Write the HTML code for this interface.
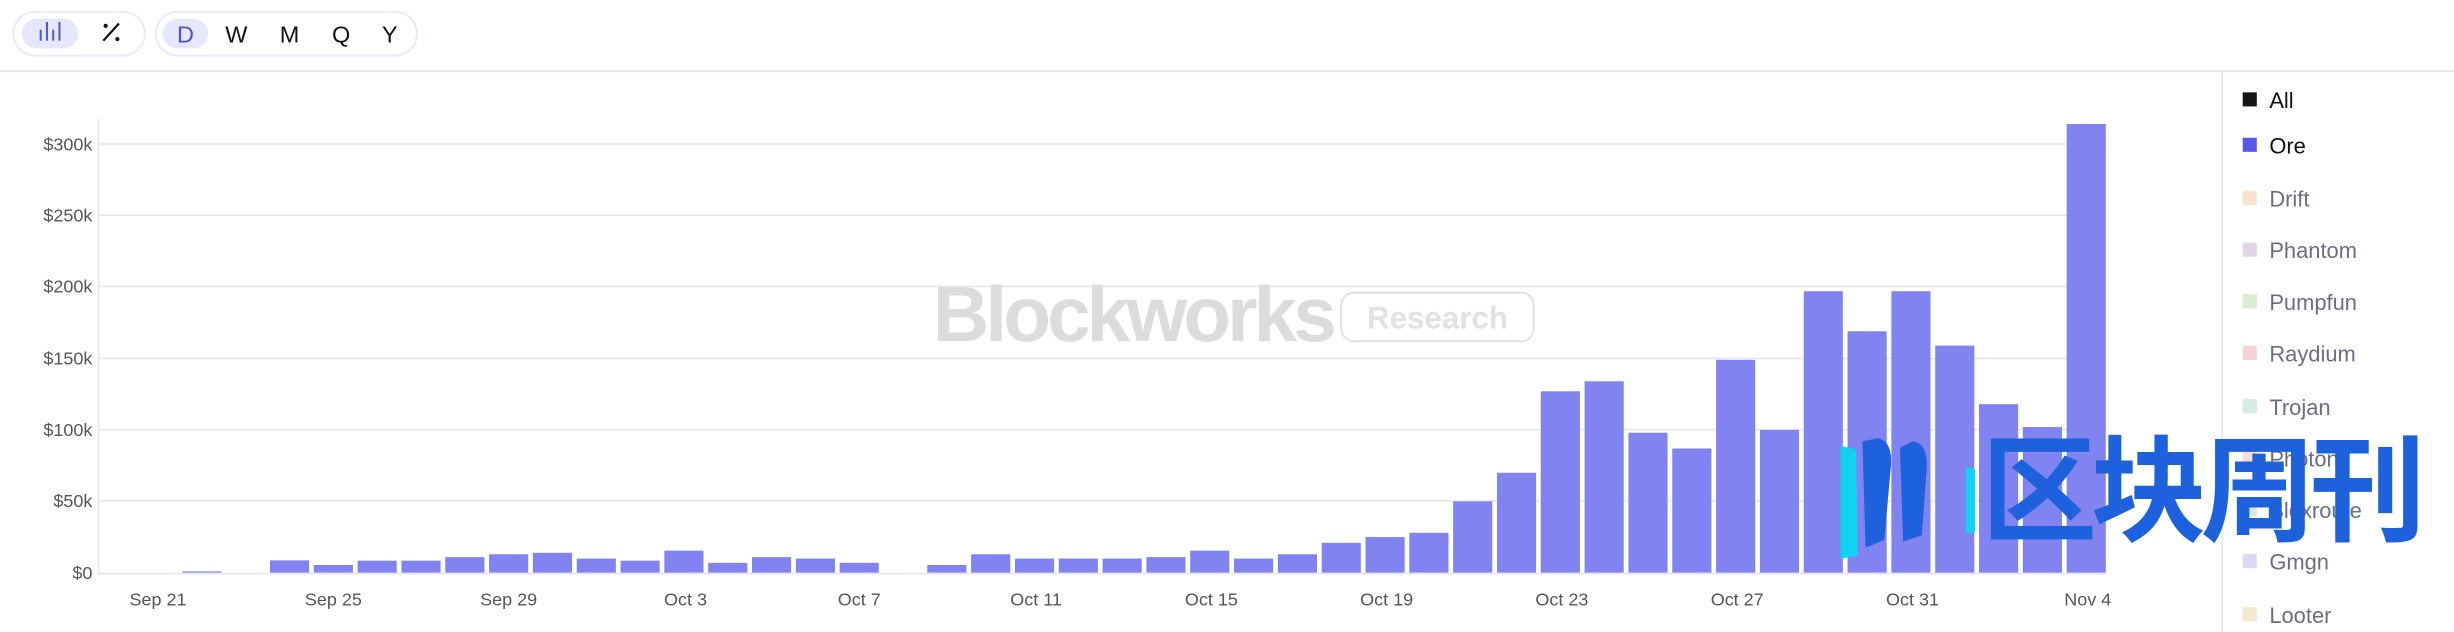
<!DOCTYPE html>
<html><head><meta charset="utf-8"><style>
html,body{margin:0;padding:0;background:#fff;width:2454px;height:632px;overflow:hidden}
svg{display:block}
</style></head><body>
<svg width="2454" height="632" viewBox="0 0 1568 403.8" xmlns="http://www.w3.org/2000/svg" font-family="Liberation Sans, sans-serif">
<rect width="1568" height="404" fill="#fff"/>
<rect x="8.5" y="7.5" width="84" height="28" rx="14" fill="#fff" stroke="#e8e9fb" stroke-width="1.2"/>
<rect x="14" y="12" width="36" height="19" rx="9.5" fill="#e6e7fb"/>
<g stroke="#5457d8" stroke-width="1.3"><line x1="26" y1="26" x2="26" y2="19"/><line x1="30" y1="26" x2="30" y2="14"/><line x1="34" y1="26" x2="34" y2="19"/><line x1="38" y1="26" x2="38" y2="14"/></g>
<g stroke="#111" stroke-width="1.4"><line x1="66" y1="26" x2="76" y2="15"/></g><circle cx="67.5" cy="16.5" r="1.3" fill="#111"/><circle cx="75" cy="25" r="1.3" fill="#111"/>
<rect x="99.5" y="7.5" width="167" height="28" rx="14" fill="#fff" stroke="#e8e9fb" stroke-width="1.2"/>
<rect x="104" y="12" width="29" height="19" rx="9.5" fill="#e6e7fb"/>
<g font-size="15" text-anchor="middle"><text x="118.5" y="27" fill="#4e51d6">D</text><text x="151" y="27" fill="#111">W</text><text x="185" y="27" fill="#111">M</text><text x="218" y="27" fill="#111">Q</text><text x="249" y="27" fill="#111">Y</text></g>
<line x1="0" y1="45.5" x2="1568" y2="45.5" stroke="#e4e4e9" stroke-width="1.2"/>
<line x1="1420" y1="46" x2="1420" y2="404" stroke="#e6e6ea" stroke-width="1"/>
<g stroke="#e6e6ec" stroke-width="1">
<line x1="63" y1="92" x2="1346" y2="92"/><line x1="63" y1="137.5" x2="1346" y2="137.5"/><line x1="63" y1="183" x2="1346" y2="183"/><line x1="63" y1="229" x2="1346" y2="229"/><line x1="63" y1="274.5" x2="1346" y2="274.5"/><line x1="63" y1="320" x2="1346" y2="320"/>
</g>
<line x1="63" y1="76" x2="63" y2="367" stroke="#e6e6ec"/>
<g font-size="11.5" fill="#555" text-anchor="end">
<text x="59" y="96">$300k</text><text x="59" y="141.5">$250k</text><text x="59" y="187">$200k</text><text x="59" y="233">$150k</text><text x="59" y="278.5">$100k</text><text x="59" y="324">$50k</text><text x="59" y="370">$0</text>
</g>
<text x="596" y="218" font-size="50" font-weight="bold" fill="#dcdcdc" letter-spacing="-2.5">Blockworks</text>
<rect x="857" y="187" width="123" height="31" rx="8" fill="none" stroke="#e2e2e2" stroke-width="1.3"/>
<text x="918.5" y="210" font-size="20" font-weight="bold" fill="#e2e2e2" text-anchor="middle">Research</text>
<g fill="#8083f0">
<rect x="116.5" y="365.09" width="25" height="0.91"/>
<rect x="172.5" y="358.05" width="25" height="7.95"/>
<rect x="200.5" y="360.98" width="25" height="5.02"/>
<rect x="228.5" y="358.24" width="25" height="7.76"/>
<rect x="256.5" y="358.24" width="25" height="7.76"/>
<rect x="284.5" y="355.95" width="25" height="10.05"/>
<rect x="312.5" y="354.13" width="25" height="11.87"/>
<rect x="340.5" y="353.21" width="25" height="12.79"/>
<rect x="368.5" y="356.87" width="25" height="9.13"/>
<rect x="396.5" y="358.24" width="25" height="7.76"/>
<rect x="424.5" y="351.84" width="25" height="14.16"/>
<rect x="452.5" y="359.61" width="25" height="6.39"/>
<rect x="480.5" y="355.95" width="25" height="10.05"/>
<rect x="508.5" y="356.87" width="25" height="9.13"/>
<rect x="536.5" y="359.61" width="25" height="6.39"/>
<rect x="592.5" y="360.98" width="25" height="5.02"/>
<rect x="620.5" y="354.13" width="25" height="11.87"/>
<rect x="648.5" y="356.87" width="25" height="9.13"/>
<rect x="676.5" y="356.87" width="25" height="9.13"/>
<rect x="704.5" y="356.87" width="25" height="9.13"/>
<rect x="732.5" y="355.95" width="25" height="10.05"/>
<rect x="760.5" y="351.84" width="25" height="14.16"/>
<rect x="788.5" y="356.87" width="25" height="9.13"/>
<rect x="816.5" y="354.13" width="25" height="11.87"/>
<rect x="844.5" y="346.82" width="25" height="19.18"/>
<rect x="872.5" y="343.17" width="25" height="22.83"/>
<rect x="900.5" y="340.43" width="25" height="25.57"/>
<rect x="928.5" y="320.33" width="25" height="45.67"/>
<rect x="956.5" y="302.07" width="25" height="63.93"/>
<rect x="984.5" y="250.01" width="25" height="115.99"/>
<rect x="1012.5" y="243.62" width="25" height="122.38"/>
<rect x="1040.5" y="276.5" width="25" height="89.5"/>
<rect x="1068.5" y="286.54" width="25" height="79.46"/>
<rect x="1096.5" y="229.92" width="25" height="136.08"/>
<rect x="1124.5" y="274.67" width="25" height="91.33"/>
<rect x="1152.5" y="186.08" width="25" height="179.92"/>
<rect x="1180.5" y="211.65" width="25" height="154.35"/>
<rect x="1208.5" y="186.08" width="25" height="179.92"/>
<rect x="1236.5" y="220.79" width="25" height="145.21"/>
<rect x="1264.5" y="258.23" width="25" height="107.77"/>
<rect x="1292.5" y="272.84" width="25" height="93.16"/>
<rect x="1320.5" y="79.22" width="25" height="286.78"/>
</g>
<line x1="63" y1="366.5" x2="1346" y2="366.5" stroke="#e6e6ec" stroke-width="1.2"/>
<g font-size="11.5" fill="#555" text-anchor="middle">
<text x="101" y="387">Sep 21</text><text x="213" y="387">Sep 25</text><text x="325" y="387">Sep 29</text><text x="438" y="387">Oct 3</text><text x="549" y="387">Oct 7</text><text x="662" y="387">Oct 11</text><text x="774" y="387">Oct 15</text><text x="886" y="387">Oct 19</text><text x="998" y="387">Oct 23</text><text x="1110" y="387">Oct 27</text><text x="1222" y="387">Oct 31</text><text x="1334" y="387">Nov 4</text>
</g>
<g font-size="14">
<rect x="1433" y="59" width="9" height="9" fill="#151515"/><text x="1450" y="69" fill="#111">All</text>
<rect x="1433" y="88" width="9" height="9" fill="#5558e8"/><text x="1450" y="98" fill="#111">Ore</text>
<rect x="1433" y="122" width="9" height="9" fill="#fbe2cc"/><text x="1450" y="132" fill="#6b6e80">Drift</text>
<rect x="1433" y="155" width="9" height="9" fill="#e2d5ea"/><text x="1450" y="165" fill="#6b6e80">Phantom</text>
<rect x="1433" y="188" width="9" height="9" fill="#dcecd2"/><text x="1450" y="198" fill="#6b6e80">Pumpfun</text>
<rect x="1433" y="221" width="9" height="9" fill="#f6d2d4"/><text x="1450" y="231" fill="#6b6e80">Raydium</text>
<rect x="1433" y="255" width="9" height="9" fill="#d3ede6"/><text x="1450" y="265" fill="#6b6e80">Trojan</text>
<rect x="1433" y="288" width="9" height="9" fill="#f7dcd8"/><text x="1450" y="298" fill="#6b6e80">Photon</text>
<rect x="1433" y="321" width="9" height="9" fill="#d6e8e0"/><text x="1450" y="331" fill="#6b6e80">Bloxroute</text>
<rect x="1433" y="354" width="9" height="9" fill="#dcd7f4"/><text x="1450" y="364" fill="#6b6e80">Gmgn</text>
<rect x="1433" y="388" width="9" height="9" fill="#f4e8cc"/><text x="1450" y="398" fill="#6b6e80">Looter</text>
</g>
<g>
<path d="M1176 285 L1186 287 L1187 355 L1176 357 Z" fill="#12d2f2"/>
<path d="M1190 282 L1200 280 Q1210 282 1208 300 L1204 345 L1192 350 Z" fill="#1d62dc"/>
<path d="M1214 286 L1222 282 Q1232 283 1231 300 L1228 342 L1216 346 Z" fill="#1d62dc"/>
<path d="M1256 298 L1262 300 L1262 340 L1256 341 Z" fill="#12d2f2"/>
<text x="1266" y="340" font-size="74" font-weight="bold" fill="#1d62dc" font-family="Noto Sans CJK SC, WenQuanYi Zen Hei, sans-serif" letter-spacing="-4">区块周刊</text>
</g>
</svg>
</body></html>
